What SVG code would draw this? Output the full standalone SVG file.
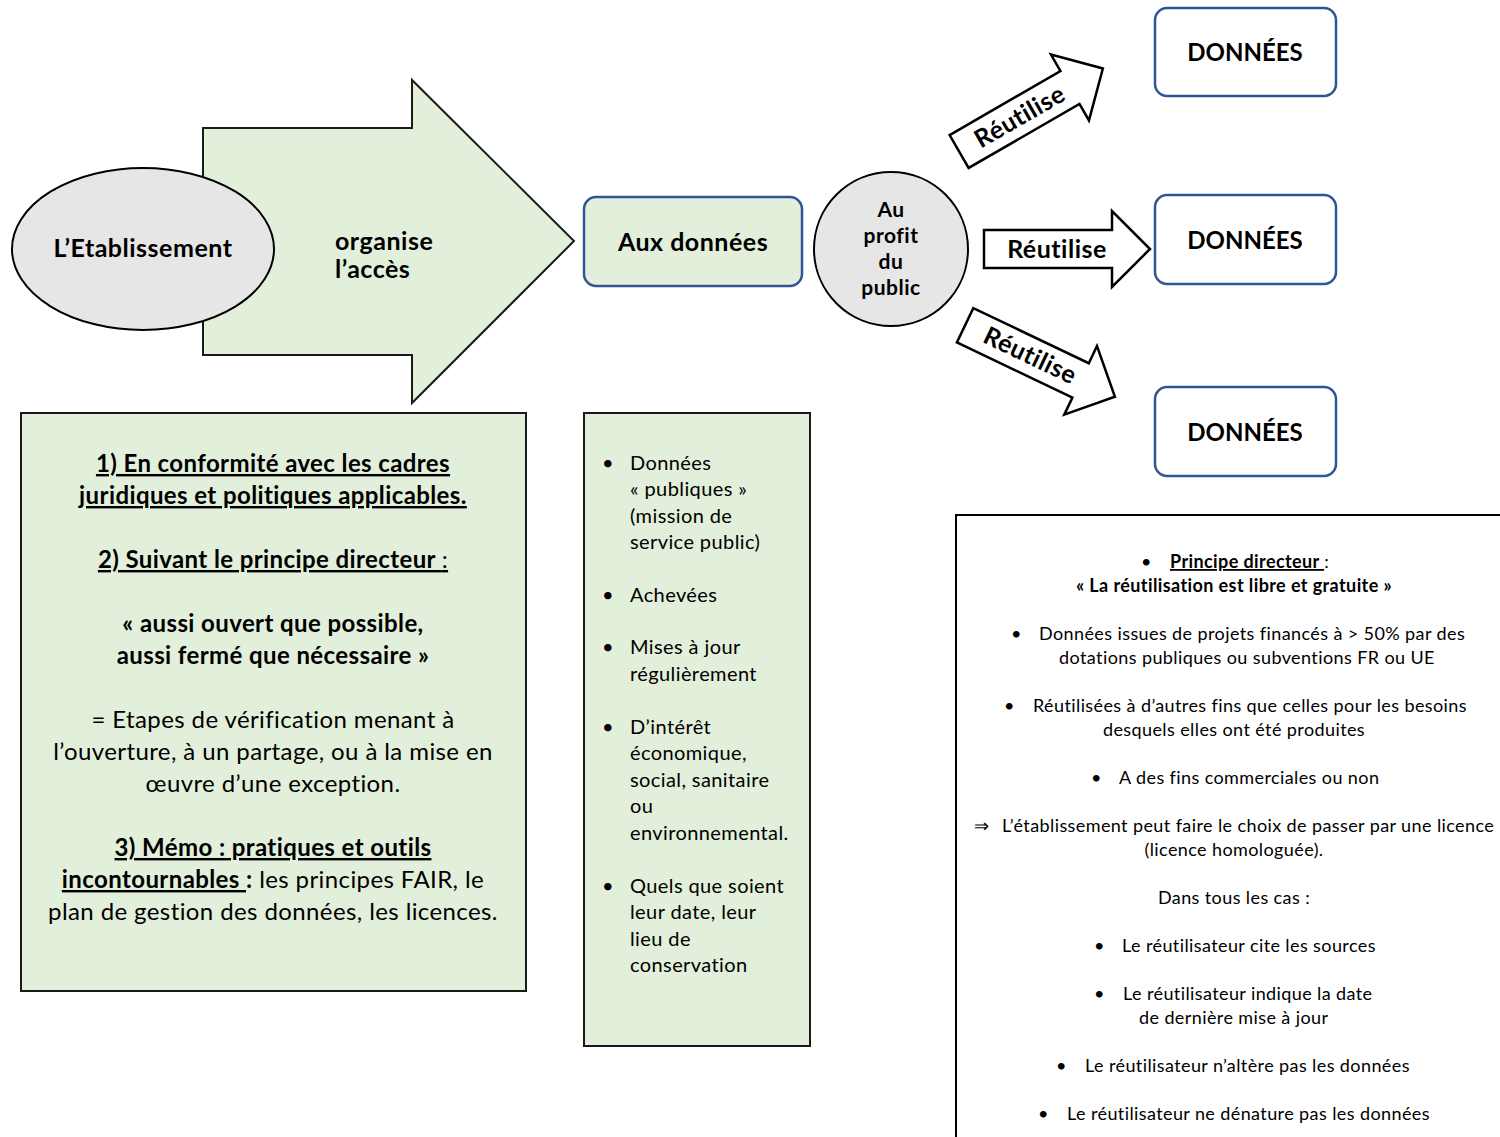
<svg xmlns="http://www.w3.org/2000/svg" width="1500" height="1137" viewBox="0 0 1500 1137">
<style>
text{font-family:Lato,"Liberation Sans",sans-serif;fill:#000}
.b{font-weight:bold}
.u{text-decoration:underline}
.c{text-anchor:middle}
.t24{font-size:24px;letter-spacing:0.4px}
.t25{font-size:25px;letter-spacing:0.5px}
.t21{font-size:21px;letter-spacing:0.5px}
.t20{font-size:20px;letter-spacing:0.4px}
.t18{font-size:18px;letter-spacing:0.4px}
.d{font-size:24px;letter-spacing:0}
.green{fill:#e2efda;stroke:#1a1a1a;stroke-width:2}
.grey{fill:#e6e6e6;stroke:#000;stroke-width:2}
.blue{fill:#fff;stroke:#2f5597;stroke-width:2.5}
.bluegreen{fill:#e2efda;stroke:#2f5597;stroke-width:2.5}
.warrow{fill:#fff;stroke:#000;stroke-width:2.5}
</style>
<defs>
<polygon id="arr" points="-83,-19 45,-19 45,-38 83,0 45,38 45,19 -83,19"/>
</defs>
<rect width="1500" height="1137" fill="#fff"/>

<g id="connectors">
<g id="arrow-organise">
<polygon class="green" points="203,128 412,128 412,80 574,241 412,403 412,355 203,355"/>
<text class="b t25" x="335" y="250">organise</text>
<text class="b t25" x="335" y="278">l’accès</text>
</g>
<g id="arrow-reutilise-up">
<use href="#arr" class="warrow" transform="translate(1031,110) rotate(-30)"/>
<text class="b t25 c" transform="translate(1020,117) rotate(-30)" y="8">Réutilise</text>
</g>
<g id="arrow-reutilise-mid">
<use href="#arr" class="warrow" transform="translate(1067,249)"/>
<text class="b t25 c" x="1057" y="258">Réutilise</text>
</g>
<g id="arrow-reutilise-down">
<use href="#arr" class="warrow" transform="translate(1040,361) rotate(25.5)"/>
<text class="b t25 c" transform="translate(1030,356) rotate(25.5)" y="8">Réutilise</text>
</g>
</g>

<g id="etablissement">
<ellipse class="grey" cx="143" cy="249" rx="131" ry="81"/>
<text class="b t25 c" x="143" y="257">L’Etablissement</text>
</g>

<g id="aux-donnees">
<rect class="bluegreen" x="584" y="197" width="218" height="89" rx="12"/>
<text class="b t25 c" x="693" y="251">Aux données</text>
</g>

<g id="profit-public">
<circle class="grey" cx="891" cy="249" r="77"/>
<text class="b t21 c" x="891" y="217">Au</text>
<text class="b t21 c" x="891" y="243">profit</text>
<text class="b t21 c" x="891" y="269">du</text>
<text class="b t21 c" x="891" y="295">public</text>
</g>

<g id="donnees-1">
<rect class="blue" x="1155" y="8" width="181" height="88" rx="12"/>
<text class="b d c" x="1245" y="61">DONNÉES</text>
</g>
<g id="donnees-2">
<rect class="blue" x="1155" y="195" width="181" height="89" rx="12"/>
<text class="b d c" x="1245" y="249">DONNÉES</text>
</g>
<g id="donnees-3">
<rect class="blue" x="1155" y="387" width="181" height="89" rx="12"/>
<text class="b d c" x="1245" y="441">DONNÉES</text>
</g>

<g id="cadre-principes">
<rect class="green" x="21" y="413" width="505" height="578"/>
<text class="b u t24 c" x="273" y="472">1) En conformité avec les cadres</text>
<text class="b u t24 c" x="273" y="504">juridiques et politiques applicables.</text>
<text class="u t24 c" x="273" y="568"><tspan class="b">2) Suivant le principe directeur </tspan>:</text>
<text class="b t24 c" x="273" y="632">« aussi ouvert que possible,</text>
<text class="b t24 c" x="273" y="664">aussi fermé que nécessaire »</text>
<text class="t24 c" x="273" y="728">= Etapes de vérification menant à</text>
<text class="t24 c" x="273" y="760">l’ouverture, à un partage, ou à la mise en</text>
<text class="t24 c" x="273" y="792">œuvre d’une exception.</text>
<text class="b u t24 c" x="273" y="856">3) Mémo : pratiques et outils</text>
<text class="t24 c" x="273" y="888"><tspan class="b u">incontournables </tspan><tspan class="b">:</tspan> les principes FAIR, le</text>
<text class="t24 c" x="273" y="920">plan de gestion des données, les licences.</text>
</g>

<g id="criteres-donnees">
<rect class="green" x="584" y="413" width="226" height="633"/>
<g class="t20">
<text x="602" y="470">•</text>
<text x="630" y="470">Données</text>
<text x="630" y="496">« publiques »</text>
<text x="630" y="523">(mission de</text>
<text x="630" y="549">service public)</text>
<text x="602" y="602">•</text>
<text x="630" y="602">Achevées</text>
<text x="602" y="654">•</text>
<text x="630" y="654">Mises à jour</text>
<text x="630" y="681">régulièrement</text>
<text x="602" y="734">•</text>
<text x="630" y="734">D’intérêt</text>
<text x="630" y="760">économique,</text>
<text x="630" y="787">social, sanitaire</text>
<text x="630" y="813">ou</text>
<text x="630" y="840">environnemental.</text>
<text x="602" y="893">•</text>
<text x="630" y="893">Quels que soient</text>
<text x="630" y="919">leur date, leur</text>
<text x="630" y="946">lieu de</text>
<text x="630" y="972">conservation</text>
</g>
</g>

<g id="cadre-reutilisation">
<rect x="956" y="515" width="560" height="640" fill="#fff" stroke="#000" stroke-width="2"/>
<g class="t18">
<text x="1141" y="568">•</text>
<text x="1170" y="568"><tspan class="b u">Principe directeur </tspan>:</text>
<text class="b c" x="1234" y="592">« La réutilisation est libre et gratuite »</text>
<text x="1011" y="640">•</text>
<text x="1039" y="640">Données issues de projets financés à &gt; 50% par des</text>
<text class="c" x="1247" y="664">dotations publiques ou subventions FR ou UE</text>
<text x="1004" y="712">•</text>
<text x="1033" y="712">Réutilisées à d’autres fins que celles pour les besoins</text>
<text class="c" x="1234" y="736">desquels elles ont été produites</text>
<text x="1091" y="784">•</text>
<text x="1119" y="784">A des fins commerciales ou non</text>
<text x="974" y="832">⇒</text>
<text x="1002" y="832">L’établissement peut faire le choix de passer par une licence</text>
<text class="c" x="1234" y="856">(licence homologuée).</text>
<text class="c" x="1234" y="904">Dans tous les cas :</text>
<text x="1094" y="952">•</text>
<text x="1122" y="952">Le réutilisateur cite les sources</text>
<text x="1094" y="1000">•</text>
<text x="1123" y="1000">Le réutilisateur indique la date</text>
<text x="1139" y="1024">de dernière mise à jour</text>
<text x="1056" y="1072">•</text>
<text x="1085" y="1072">Le réutilisateur n’altère pas les données</text>
<text x="1038" y="1120">•</text>
<text x="1067" y="1120">Le réutilisateur ne dénature pas les données</text>
</g>
</g>
</svg>
